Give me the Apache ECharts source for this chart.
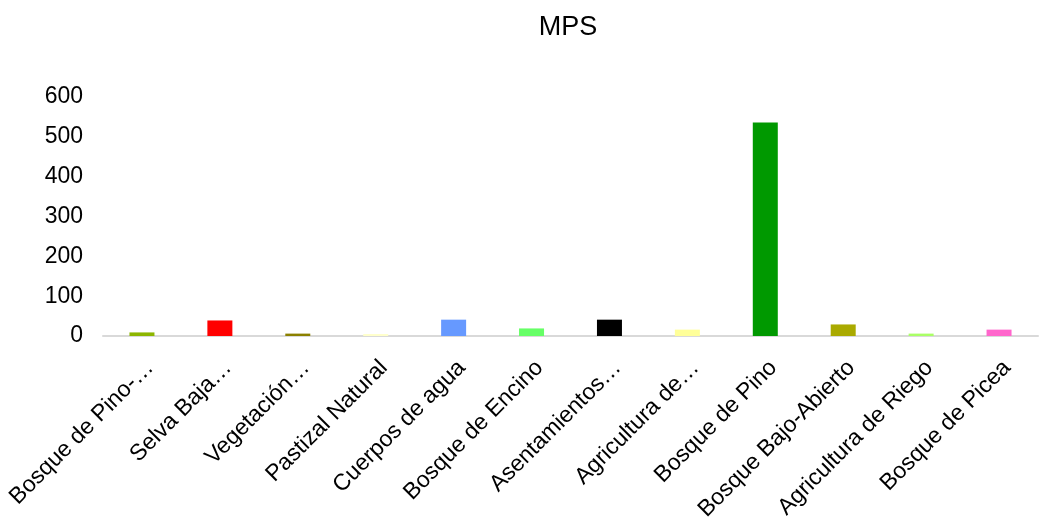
<!DOCTYPE html>
<html>
<head>
<meta charset="utf-8">
<script src="https://cdn.jsdelivr.net/npm/echarts@6/dist/echarts.min.js"></script>
<style>
  html, body { margin: 0; padding: 0; background: #fff; }
  #chart { width: 1039px; height: 521px; }
</style>
</head>
<body>
<div id="chart"></div>
<script>
// Land-cover classes shown on the category axis
const categories = [
  'Bosque de Pino-\u2026',
  'Selva Baja\u2026',
  'Vegetación\u2026',
  'Pastizal Natural',
  'Cuerpos de agua',
  'Bosque de Encino',
  'Asentamientos\u2026',
  'Agricultura de\u2026',
  'Bosque de Pino',
  'Bosque Bajo-Abierto',
  'Agricultura de Riego',
  'Bosque de Picea'
];

// Mean patch size per class
const mpsValues = [9, 39, 6, 5, 41, 19, 41, 16, 536, 29, 6, 16];

// One fill colour per class
const barColors = [
  '#8DB600', '#FF0000', '#8B8000', '#FFFFCC', '#6699FF', '#66FF66',
  '#000000', '#FFFF99', '#009900', '#AAAA00', '#AAFF66', '#FF66CC'
];

// Value-axis ticks
const yTicks = { min: 0, max: 600, interval: 100 };

const chart = echarts.init(document.getElementById('chart'), null, { renderer: 'canvas' });

chart.setOption({
  backgroundColor: '#ffffff',
  animation: false,
  title: {
    text: 'MPS',
    left: 563,
    textAlign: 'center',
    top: 9,
    textStyle: {
      fontFamily: 'Liberation Sans',
      fontSize: 27,
      fontWeight: 'normal',
      color: '#000000'
    }
  },
  grid: {
    left: 103,
    right: 1,
    top: 97,
    bottom: 185,
    containLabel: false,
    outerBoundsMode: 'none'
  },
  xAxis: {
    type: 'category',
    data: categories,
    axisLine: { show: true, lineStyle: { color: '#D9D9D9', width: 2 } },
    axisTick: { show: false },
    axisLabel: {
      interval: 0,
      rotate: 45,
      margin: 20,
      align: 'right',
      verticalAlign: 'top',
      fontFamily: 'Liberation Sans',
      fontSize: 23,
      color: '#000000'
    }
  },
  yAxis: {
    type: 'value',
    min: yTicks.min,
    max: yTicks.max,
    interval: yTicks.interval,
    axisLine: { show: false },
    axisTick: { show: false },
    splitLine: { show: false },
    axisLabel: {
      margin: 20,
      padding: [4, 0, 0, 0],
      fontFamily: 'Liberation Sans',
      fontSize: 23,
      color: '#000000'
    }
  },
  series: [{
    type: 'bar',
    barWidth: 25,
    data: mpsValues.map((v, i) => ({ value: v, itemStyle: { color: barColors[i] } }))
  }]
});
</script>
</body>
</html>
